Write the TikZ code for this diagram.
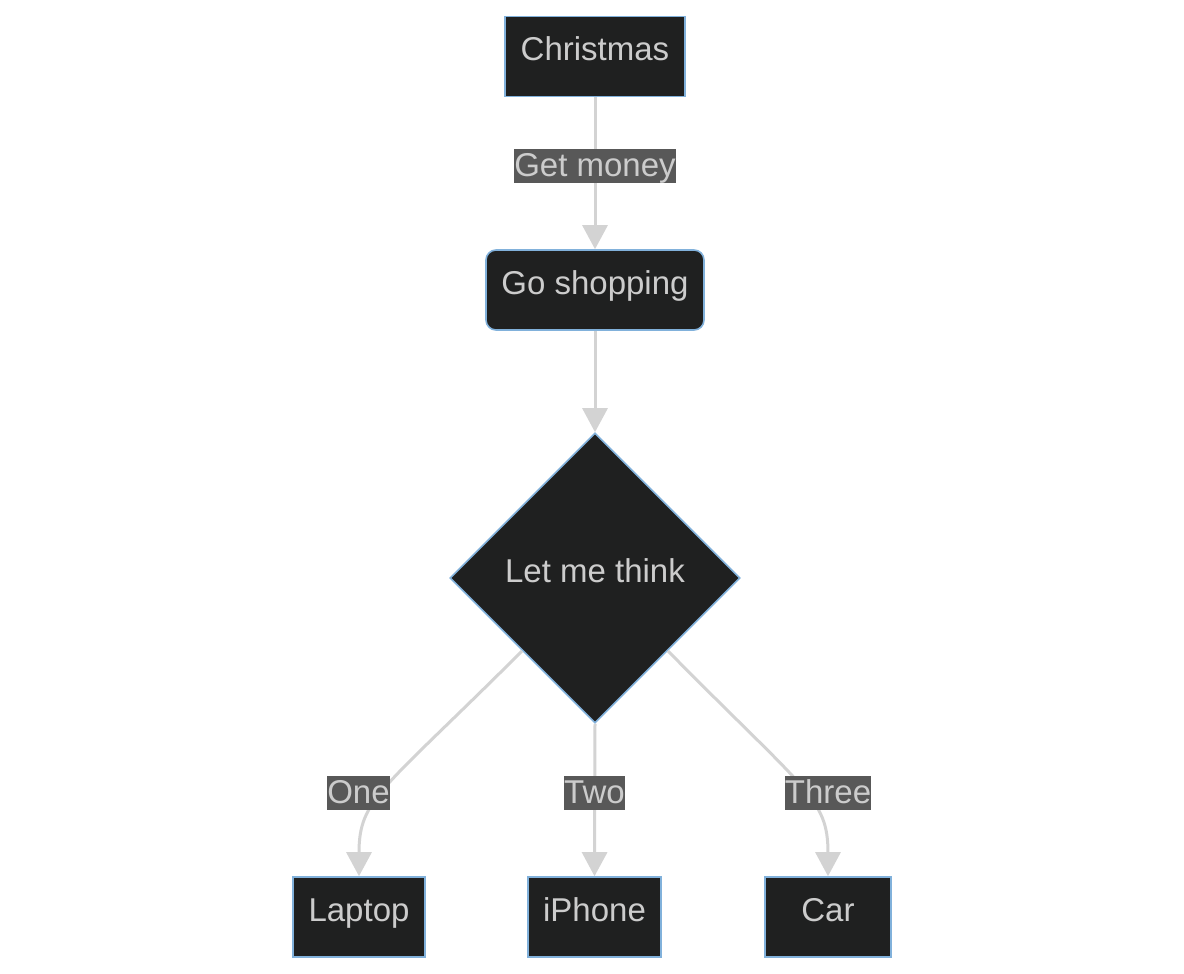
\documentclass[tikz,border=0pt]{standalone}
\usepackage{fontspec}
\setmainfont{Liberation Sans}
\definecolor{nodefill}{HTML}{1F2020}
\definecolor{nodeline}{HTML}{81B1DB}
\definecolor{ink}{HTML}{CCCCCC}
\definecolor{wire}{HTML}{D3D3D3}
\definecolor{tagfill}{HTML}{585858}
\usetikzlibrary{shapes.geometric, arrows.meta}

\begin{document}
\begin{tikzpicture}[
  x=0.5pt, y=0.5pt,
  box/.style={draw=nodeline, fill=nodefill, line width=0.8pt, text=ink,
              minimum height=40pt, inner sep=0pt, text height=12pt, text depth=7.5pt,
              font=\fontsize{16.5}{20}\selectfont},
  choice/.style={box, diamond, minimum width=145pt, minimum height=145pt},
  edgetag/.style={fill=tagfill, text=ink, inner sep=0pt, text height=14pt,
                  text depth=3.3pt, font=\fontsize{16.5}{20}\selectfont},
  flow/.style={-{Triangle[length=12pt, width=12.5pt]}, draw=wire, line width=1.5pt},
]
\useasboundingbox (0,0) rectangle (1184,-974);

\node[box, minimum width=90pt] (xmas) at (595,-56.5) {Christmas};
\node[box, minimum width=109pt, rounded corners=5pt] (shop) at (595,-290) {Go shopping};
\node[choice] (think) at (595,-578) {Let me think};
\node[box, minimum width=66pt] (laptop) at (359,-917) {Laptop};
\node[box, minimum width=66.5pt] (iphone) at (594.5,-917) {iPhone};
\node[box, minimum width=63pt] (car) at (828,-917) {Car};

\draw[flow] (xmas) -- (shop);
\draw[flow] (shop) -- (think.north);
\draw[flow] (think.south west) .. controls +(-140,-140) and +(0,78) .. (laptop.north);
\draw[flow] (think.south) -- (iphone.north);
\draw[flow] (think.south east) .. controls +(138,-140) and +(0,78) .. (car.north);

\node[edgetag] (money) at (595,-166) {Get money};
\node[edgetag] (one) at (358.5,-793) {One};
\node[edgetag] (two) at (594.5,-793) {Two};
\node[edgetag] (three) at (828,-793) {Three};
\end{tikzpicture}
\end{document}
